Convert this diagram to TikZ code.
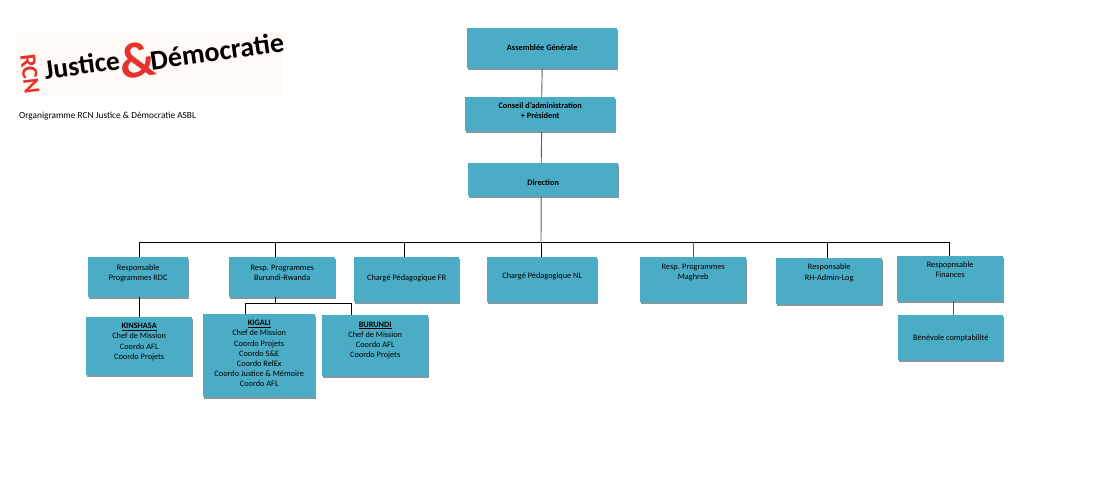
\documentclass[tikz,border=0pt]{standalone}
\usepackage{fontspec}
\setmainfont{Carlito}
\usetikzlibrary{shadows}
\definecolor{boxblue}{HTML}{4BACC6}
\definecolor{boxshade}{HTML}{7F9AA3}
\definecolor{logored}{HTML}{E5322D}
\newcommand{\boxtext}[4]{\parbox[t][#2pt][t]{#1pt}{\centering\vspace*{#3pt}#4}}
\tikzset{
orgbox/.style={fill=boxblue,inner sep=0pt,anchor=north west,font=\fontsize{8.3}{10.2}\selectfont,
  drop shadow={shadow xshift=1pt,shadow yshift=-1.5pt,fill=boxshade,opacity=1}},
link/.style={draw=black,line width=0.9pt},
softlink/.style={draw=black!65,line width=0.9pt},
logotext/.style={font=\fontsize{#1}{#1}\selectfont\bfseries,inner sep=0pt}
}
\begin{document}
\begin{tikzpicture}[x=1pt,y=-1pt]
\useasboundingbox (0,0) rectangle (1113,489);
% logo
\fill[orange!4] (16,32) rectangle (282,96);
\node (rcn) [logotext=23,text=logored,rotate=-83] at (30,74) {RCN};
\node (justice) [logotext=27.5,rotate=8] at (82,65) {Justice};
\node (amp) [logotext=50,text=logored,rotate=8] at (138,60) {\&};
\node (democratie) [logotext=28,rotate=8] at (217,51) {Démocratie};
\node (title) [anchor=west,inner sep=0pt,font=\fontsize{9.3}{10}\selectfont] at (19,116) {Organigramme RCN Justice \& Démocratie ASBL};
% top of the chart
\node (assemblee) [orgbox] at (467,28) {\boxtext{150}{40}{16.5}{\textbf{Assemblée Générale}}};
\node (conseil) [orgbox] at (465,97) {\boxtext{150}{34}{5.5}{\textbf{Conseil d'administration\\+ Président}}};
\node (direction) [orgbox] at (468,163) {\boxtext{150}{33}{16.5}{\textbf{Direction}}};
% second row
\node (resprdc) [orgbox] at (88,257) {\boxtext{100}{40}{7.5}{Responsable\\Programmes RDC}};
\node (respbr) [orgbox] at (229,257) {\boxtext{106}{40}{7.5}{Resp. Programmes\\Burundi-Rwanda}};
\node (chargefr) [orgbox] at (354,257) {\boxtext{105}{45}{17.5}{Chargé Pédagogique FR}};
\node (chargenl) [orgbox] at (487,257) {\boxtext{110}{45}{15.5}{Chargé Pédagogique NL}};
\node (respmag) [orgbox] at (640,257) {\boxtext{106}{45}{7}{Resp. Programmes\\Maghreb}};
\node (resprh) [orgbox] at (776,258) {\boxtext{106}{46}{6}{Responsable\\RH-Admin-Log}};
\node (respfin) [orgbox] at (897,256) {\boxtext{106}{45}{5.5}{Respopnsable\\Finances}};
% third row
\node (kinshasa) [orgbox] at (86,317) {\boxtext{106}{58}{6}{\textbf{\underline{KINSHASA}}\\Chef de Mission\\Coordo AFL\\Coordo Projets}};
\node (kigali) [orgbox] at (203,314) {\boxtext{112}{83}{6}{\textbf{\underline{KIGALI}}\\Chef de Mission\\Coordo Projets\\Coordo S\&E\\Coordo RelEx\\Coordo Justice \& Mémoire\\Coordo AFL}};
\node (burundi) [orgbox] at (322,315) {\boxtext{106}{61}{6.5}{\textbf{\underline{BURUNDI}}\\Chef de Mission\\Coordo AFL\\Coordo Projets}};
\node (benevole) [orgbox] at (898,315) {\boxtext{105}{45}{20}{Bénévole comptabilité}};
% lines of the top
\draw[softlink] (assemblee.south) -- ([xshift=1.5pt]conseil.north);
\draw[softlink] ([xshift=1.5pt]conseil.south) -- ([xshift=-2pt]direction.north);
% bus
\coordinate (busleft) at (139,242);
\coordinate (busright) at (949,242);
\coordinate (busmid) at (541,242);
\draw[softlink] ([xshift=-2pt]direction.south) -- (busmid);
\draw[link] (busleft) -- (busright);
\draw[link] (busmid) -- (busmid |- chargenl.north);
\draw[link] (busleft) -- (busleft |- resprdc.north);
\draw[link] ([xshift=-7pt]respbr.north) -- ([xshift=-7pt]respbr.north |- busleft);
\draw[link] ([xshift=-2pt]chargefr.north) -- ([xshift=-2pt]chargefr.north |- busleft);
\draw[softlink] (respmag.north) -- (respmag.north |- busleft);
\draw[link] ([xshift=-2pt]resprh.north) -- ([xshift=-2pt]resprh.north |- busleft);
\draw[link] (busright) -- (busright |- respfin.north);
% lines to the offices
\coordinate (brleft) at (245,303);
\coordinate (brright) at (351,303);
\draw[link] (busleft |- resprdc.south) -- (busleft |- kinshasa.north);
\draw[link] ([xshift=-7pt]respbr.south) -- ([xshift=-7pt]respbr.south |- brleft);
\draw[link] (brleft |- kigali.north) -- (brleft) -- (brright) -- (brright |- burundi.north);
\draw[softlink] ([xshift=3pt]respfin.south) -- ([xshift=2.5pt]benevole.north);
\end{tikzpicture}
\end{document}
